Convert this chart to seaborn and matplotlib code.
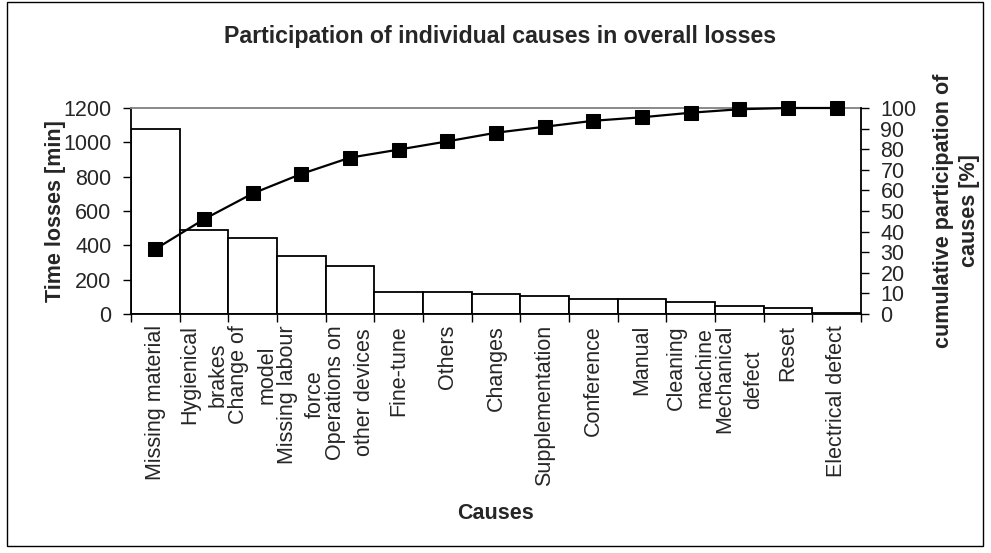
import numpy as np
import matplotlib
matplotlib.use("Agg")
import matplotlib.pyplot as plt
import seaborn as sns
from matplotlib.patches import Rectangle
from matplotlib.ticker import FixedLocator

categories = ["Missing material", "Hygienical\nbrakes", "Change of\nmodel",
              "Missing labour\nforce", "Operations on\nother devices", "Fine-tune",
              "Others", "Changes", "Supplementation", "Conference", "Manual",
              "Cleaning\nmachine", "Mechanical\ndefect", "Reset", "Electrical defect"]
time_losses = [1080, 488, 443, 338, 280, 127, 126, 115, 104, 90, 90, 69, 45, 33, 8]
cumulative_pct = [31.5, 46.0, 58.5, 68.0, 75.9, 79.8, 83.8, 88.0, 90.9, 93.8, 95.5,
                  97.7, 99.4, 100, 100]
left_ticks = [0, 200, 400, 600, 800, 1000, 1200]
right_ticks = [0, 10, 20, 30, 40, 50, 60, 70, 80, 90, 100]

sns.set_style("ticks")
plt.rcParams['font.family'] = ['Liberation Sans', 'DejaVu Sans']

FS = 15.5
fig = plt.figure(figsize=(9.91, 5.53), dpi=100)
ax = fig.add_axes([131/991, 1-314/553, (861-131)/991, (314-108)/553])

x = np.arange(len(categories))
sns.barplot(x=x, y=time_losses, color="white", edgecolor="black", linewidth=1.3,
            width=1.0, ax=ax, saturation=1, native_scale=True)
ax.set_xlim(-0.5, len(categories) - 0.5)
ax.set_ylim(0, 1200)
ax.set_yticks(left_ticks)
ax.set_yticklabels([str(v) for v in left_ticks], fontsize=FS)
ax.tick_params(axis='y', direction='out', length=6, width=1, color='black', pad=8)

ax.set_xticks(x)
ax.set_xticklabels(categories, rotation=90, fontsize=FS, ha='center', va='top',
                   multialignment='center', linespacing=1.45)
ax.tick_params(axis='x', which='major', length=0, pad=8)
ax.xaxis.set_minor_locator(FixedLocator(np.arange(-0.5, len(categories), 1.0)))
ax.tick_params(axis='x', which='minor', direction='out', length=6, width=1, color='black')

for s in ['left', 'bottom']:
    ax.spines[s].set_color('black')
    ax.spines[s].set_linewidth(1.3)
ax.spines['top'].set_color('#808080')
ax.spines['top'].set_linewidth(1.3)
ax.spines['right'].set_visible(False)

ax.set_ylabel("Time losses [min]", fontsize=FS, fontweight='bold', labelpad=-2)
ax.set_xlabel("Causes", fontsize=FS, fontweight='bold', labelpad=12)

ax2 = ax.twinx()
sns.lineplot(x=x, y=cumulative_pct, color='black', marker='s', markersize=10,
             linewidth=1.6, markeredgecolor='black', ax=ax2, clip_on=False)
ax2.set_ylim(0, 100)
ax2.set_yticks(right_ticks)
ax2.set_yticklabels([str(v) for v in right_ticks], fontsize=FS)
ax2.tick_params(axis='y', direction='out', length=6, width=1, color='black', pad=8)
ax2.spines['right'].set_color('black')
ax2.spines['right'].set_linewidth(1.3)
ax2.spines['top'].set_visible(False)
ax2.spines['left'].set_visible(False)
ax2.spines['bottom'].set_visible(False)
ax2.set_ylabel("cumulative participation of\ncauses [%]", fontsize=FS,
               fontweight='bold', labelpad=12, linespacing=1.3)
ax2.grid(False)
ax.grid(False)

fig.text(0.505, 1-36/553, "Participation of individual causes in overall losses",
         fontsize=16.7, fontweight='bold', ha='center', va='center')

fig.patches.append(Rectangle((7/991, 1-546/553), (983-7)/991, (546-2)/553,
                             transform=fig.transFigure, fill=False,
                             edgecolor='black', linewidth=1.0))

fig.savefig("out.png", dpi=100, facecolor='white')
